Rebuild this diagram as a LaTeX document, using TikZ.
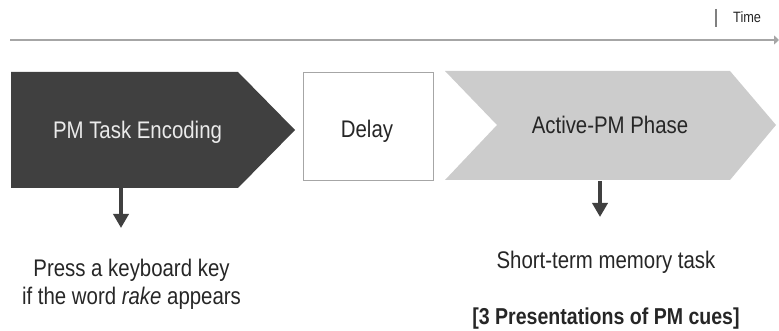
\documentclass[tikz,border=0pt]{standalone}
\usepackage{fontspec}
\setmainfont[FakeStretch=0.85]{Liberation Sans}
\usetikzlibrary{arrows.meta}
\definecolor{darkc}{HTML}{404040}
\definecolor{lightc}{HTML}{CCCCCC}
\definecolor{boxc}{HTML}{A6A6A6}
\definecolor{linec}{HTML}{A6A6A6}
\definecolor{txtc}{HTML}{262626}
\tikzset{
  lbl/.style={inner sep=0pt, text=txtc, font=\fontsize{24}{28}\selectfont},
  small/.style={inner sep=0pt, text=txtc, font=\fontsize{15}{18}\selectfont},
  downarrow/.style={draw=darkc, line width=4pt, -{Triangle[width=15pt,length=14pt]}},
}
\begin{document}
\begin{tikzpicture}[x=1pt,y=-1pt]
\useasboundingbox (0,0) rectangle (779,331);
% time line
\coordinate (tl0) at (10,40);
\coordinate (tl1) at (779,40);
\draw[linec, line width=1.5pt, -{Triangle[width=9pt,length=5pt]}] (tl0) -- (tl1);
\coordinate (tk0) at (716,9);
\coordinate (tk1) at (716,27);
\draw[gray, line width=2.5pt] (tk0) -- (tk1);
\node[small, anchor=base west] (time) at (733,23) {Time};
% shapes
\fill[darkc] (11,72) -- (238,72) -- (295,130) -- (238,188) -- (11,188) -- cycle;
\draw[boxc, fill=white, line width=1pt] (303,73) rectangle (433,181);
\fill[lightc] (445,71) -- (730,71) -- (776,125) -- (730,180) -- (445,180) -- (497,125) -- cycle;
% labels in shapes
\node[lbl, anchor=base, text=white!92!black] (enc) at (137.5,139) {PM Task Encoding};
\node[lbl, anchor=base] (delay) at (367,138) {Delay};
\node[lbl, anchor=base] (active) at (610,134) {Active-PM Phase};
% arrows
\coordinate (a0) at (121,188);
\coordinate (a1) at (121,228);
\draw[downarrow] (a0) -- (a1);
\coordinate (b0) at (600,181);
\coordinate (b1) at (600,217);
\draw[downarrow] (b0) -- (b1);
% bottom text
\node[lbl, anchor=base, align=center] (press) at (131.5,304) {Press a keyboard key\\if the word \textit{rake} appears};
\node[lbl, anchor=base] (stm) at (606,268) {Short-term memory task};
\node[lbl, anchor=base, font=\fontsize{23}{28}\selectfont\bfseries] (cues) at (606,324) {[3 Presentations of PM cues]};
\end{tikzpicture}
\end{document}
